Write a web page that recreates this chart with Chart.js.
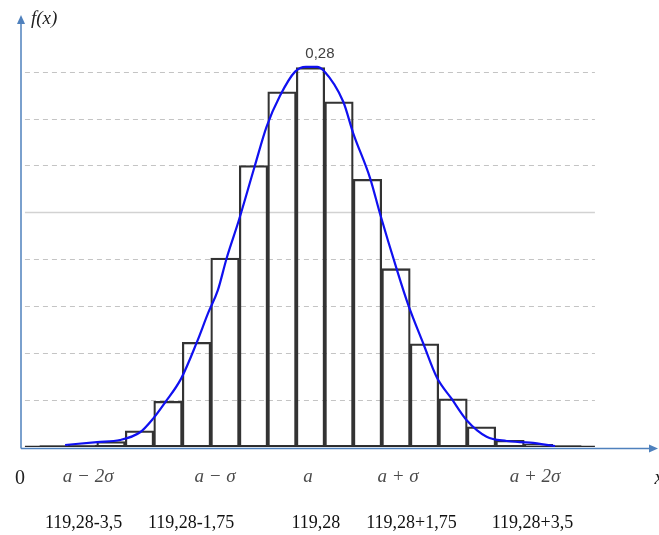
<!DOCTYPE html>
<html>
<head>
<meta charset="utf-8">
<script src="https://cdn.jsdelivr.net/npm/chart.js@4.4.1/dist/chart.umd.min.js"></script>
<style>
  html, body { margin: 0; padding: 0; background: #fff; }
  #wrap { width: 659px; height: 535px; }
</style>
</head>
<body>
<div id="wrap"><canvas id="hist"></canvas></div>
<script>
// Histogram classes (index 0..18, class 9 is the centre a = 119,28)
const clases = [0, 1, 2, 3, 4, 5, 6, 7, 8, 9, 10, 11, 12, 13, 14, 15, 16, 17, 18];
const frecuencias = [0.001, 0.0015, 0.004, 0.012, 0.034, 0.078, 0.141, 0.210, 0.265, 0.283,
                     0.2575, 0.1996, 0.133, 0.077, 0.036, 0.015, 0.005, 0.002, 0.001];

// Density curve (x in class units, y = f(x))
const curvaX = [0.39, 1.51, 2.32, 3.02, 3.47, 3.89, 4.46, 5.01, 5.41, 5.75, 6.06, 6.47, 7.05, 7.46,
                7.93, 8.46, 8.84, 9.23, 9.45, 10.15, 10.50, 11.09, 11.44, 12.02, 12.43, 12.96,
                13.43, 13.95, 14.48, 15.18, 15.88, 16.70, 17.58];
const curvaY = [0.0015, 0.0037, 0.0052, 0.011, 0.021, 0.033, 0.051, 0.078, 0.100, 0.117, 0.141,
                0.168, 0.210, 0.239, 0.262, 0.280, 0.2836, 0.2836, 0.281, 0.2575, 0.234, 0.2006,
                0.174, 0.133, 0.106, 0.077, 0.052, 0.036, 0.020, 0.0077, 0.0045, 0.0032, 0.0007];

// Baseline span of the histogram
const baseX = [-1.02, 18.98];

// Horizontal guide lines
const rejilla = [0.035, 0.07, 0.105, 0.14, 0.175, 0.21, 0.245, 0.28];
const rejillaSolida = 0.175;

// Axis labels
const etiquetasGriegas = ['a \u2212 2\u03C3', 'a \u2212 \u03C3', 'a', 'a + \u03C3', 'a + 2\u03C3'];
const posGriegas = [1.20, 5.65, 8.91, 12.07, 16.88];
const etiquetasNum = ['119,28-3,5', '119,28-1,75', '119,28', '119,28+1,75', '119,28+3,5'];
const posNum = [1.04, 4.81, 9.19, 12.54, 16.79];

const maximoTexto = '0,28';
const maximoPos = [9.33, 0.2935];

const azulEje = '#4f81bd';

const dibujoExtra = {
  id: 'dibujoExtra',
  beforeDatasetsDraw(chart) {
    const ctx = chart.ctx;
    const xs = chart.scales.x, ys = chart.scales.y;
    const x0 = xs.getPixelForValue(baseX[0]);
    const x1 = xs.getPixelForValue(baseX[1]);
    ctx.save();
    rejilla.forEach(v => {
      const y = Math.round(ys.getPixelForValue(v)) + 0.5;
      ctx.beginPath();
      if (v === rejillaSolida) {
        ctx.setLineDash([]);
        ctx.strokeStyle = '#d2d2d2';
        ctx.lineWidth = 1.5;
      } else {
        ctx.setLineDash([5, 4]);
        ctx.strokeStyle = '#c4c4c4';
        ctx.lineWidth = 1.2;
      }
      ctx.moveTo(x0, y);
      ctx.lineTo(x1, y);
      ctx.stroke();
    });
    ctx.restore();
  },
  afterDraw(chart) {
    const ctx = chart.ctx;
    const xs = chart.scales.x, ys = chart.scales.y;
    const area = chart.chartArea;
    ctx.save();
    // axes with arrows
    ctx.strokeStyle = azulEje;
    ctx.fillStyle = azulEje;
    ctx.lineWidth = 1.5;
    const yBase = area.bottom + 1.5;
    ctx.beginPath();
    ctx.moveTo(area.left, yBase);
    ctx.lineTo(area.right - 4, yBase);
    ctx.moveTo(area.left, yBase);
    ctx.lineTo(area.left, area.top + 4);
    ctx.stroke();
    ctx.beginPath();
    ctx.moveTo(area.left, area.top - 3);
    ctx.lineTo(area.left - 4, area.top + 6);
    ctx.lineTo(area.left + 4, area.top + 6);
    ctx.closePath();
    ctx.fill();
    ctx.beginPath();
    ctx.moveTo(area.right + 3, yBase);
    ctx.lineTo(area.right - 6, yBase - 4);
    ctx.lineTo(area.right - 6, yBase + 4);
    ctx.closePath();
    ctx.fill();

    // labels
    ctx.textAlign = 'center';
    ctx.textBaseline = 'middle';
    ctx.fillStyle = '#4a4a4a';
    ctx.font = 'italic 19px "Liberation Serif", "DejaVu Serif", serif';
    etiquetasGriegas.forEach((t, i) => {
      ctx.fillText(t, xs.getPixelForValue(posGriegas[i]), area.bottom + 30);
    });
    ctx.fillStyle = '#111';
    ctx.font = '18px "Liberation Serif", "DejaVu Serif", serif';
    etiquetasNum.forEach((t, i) => {
      ctx.fillText(t, xs.getPixelForValue(posNum[i]), area.bottom + 76);
    });
    ctx.font = '20px "Liberation Serif", serif';
    ctx.fillStyle = '#222';
    ctx.fillText('0', area.left - 1, area.bottom + 32);
    ctx.font = 'italic 20px "Liberation Serif", serif';
    ctx.fillText('x', area.right + 4, area.bottom + 32);
    ctx.textAlign = 'left';
    ctx.font = 'italic 19px "Liberation Serif", serif';
    ctx.fillText('f(x)', area.left + 10, area.top + 1);
    ctx.textAlign = 'center';
    ctx.fillStyle = '#404040';
    ctx.font = '15px "Liberation Sans", Arial, sans-serif';
    ctx.fillText(maximoTexto, xs.getPixelForValue(maximoPos[0]), ys.getPixelForValue(maximoPos[1]));
    ctx.restore();
  }
};

const ctx = document.getElementById('hist');
new Chart(ctx, {
  type: 'bar',
  data: {
    datasets: [
      {
        type: 'line',
        data: curvaX.map((x, i) => ({ x: x, y: curvaY[i] })),
        borderColor: '#1010f0',
        borderWidth: 2.2,
        pointRadius: 0,
        tension: 0.4,
        cubicInterpolationMode: 'monotone',
        fill: false,
        order: 0
      },
      {
        type: 'line',
        data: baseX.map(x => ({ x: x, y: 0 })),
        borderColor: '#2a2a2a',
        borderWidth: 2.5,
        pointRadius: 0,
        fill: false,
        order: 1
      },
      {
        type: 'bar',
        data: clases.map((c, i) => ({ x: c, y: frecuencias[i] })),
        backgroundColor: 'rgba(255,255,255,0)',
        borderColor: '#333333',
        borderWidth: 1.6,
        borderSkipped: false,
        barPercentage: 1,
        categoryPercentage: 1,
        order: 2
      }
    ]
  },
  options: {
    responsive: true,
    maintainAspectRatio: false,
    animation: false,
    layout: { padding: { left: 21, right: 4, top: 18, bottom: 88 } },
    plugins: { legend: { display: false }, tooltip: { enabled: false } },
    scales: {
      x: { type: 'linear', min: -1.158, max: 21.088, offset: false, display: false },
      y: { min: 0, max: 0.32, display: false }
    }
  },
  plugins: [dibujoExtra]
});
</script>
</body>
</html>
